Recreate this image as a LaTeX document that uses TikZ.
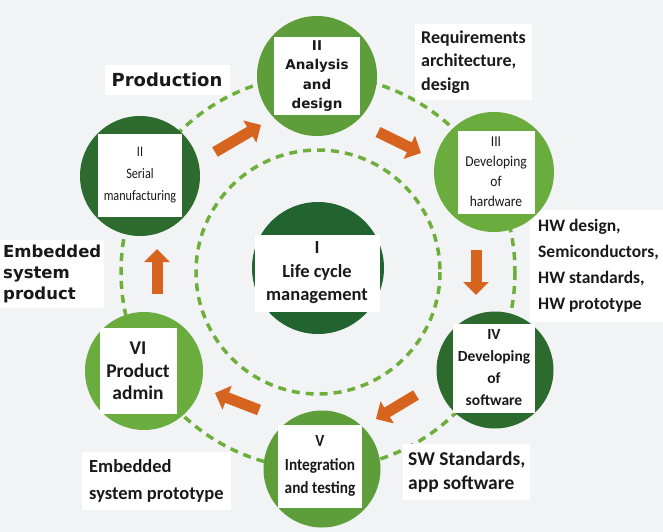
\documentclass[tikz,border=0pt]{standalone}
\usepackage{fontspec}
\setmainfont{Carlito}
\newfontfamily\dejavu{DejaVu Sans}
\newfontfamily\condA[FakeStretch=0.84]{Carlito}
\newfontfamily\condB[FakeStretch=0.9]{Carlito}
\usetikzlibrary{arrows.meta}
\definecolor{bg}{RGB}{242,243,245}
\definecolor{midgreen}{RGB}{94,158,58}
\definecolor{lightgreen}{RGB}{106,172,62}
\definecolor{darkgreen}{RGB}{44,106,46}
\definecolor{coregreen}{RGB}{33,100,47}
\definecolor{ringgreen}{RGB}{110,175,60}
\definecolor{flowor}{RGB}{214,100,30}
\definecolor{ink}{RGB}{25,25,25}
\begin{document}
\begin{tikzpicture}[x=1pt,y=-1pt,
  ring/.style={draw=ringgreen, line width=3.5pt, dash pattern=on 8pt off 6pt},
  disc/.style={circle, inner sep=0pt, minimum size=120pt},
  inbox/.style={fill=white, inner sep=0pt, align=center, text=ink},
  lbl/.style={fill=white, align=left, text=ink, inner ysep=2pt, anchor=west},
  flow/.style={draw=flowor, line width=11pt, -{Triangle[width=25pt,length=13pt]}}
]
\fill[bg] (0,0) rectangle (663,532);
\useasboundingbox (0,0) rectangle (663,532);

% rings
\coordinate (ctr) at (318,272);
\draw[ring] (ctr) circle[radius=122];
\draw[ring] (ctr) circle[radius=197];

% flow arrows
\coordinate (a1s) at (157,294); \coordinate (a1e) at (157,249);
\coordinate (a2s) at (215,152); \coordinate (a2e) at (261,125);
\coordinate (a3s) at (378,132); \coordinate (a3e) at (421,153);
\coordinate (a4s) at (476,250); \coordinate (a4e) at (476,295);
\coordinate (a5s) at (416,395); \coordinate (a5e) at (376,419);
\coordinate (a6s) at (259,410); \coordinate (a6e) at (215,393);
\draw[flow] (a1s) -- (a1e);
\draw[flow] (a2s) -- (a2e);
\draw[flow] (a3s) -- (a3e);
\draw[flow] (a4s) -- (a4e);
\draw[flow] (a5s) -- (a5e);
\draw[flow] (a6s) -- (a6e);

% outer labels
\node[lbl, anchor=center, align=center, minimum width=125pt, minimum height=30pt, inner xsep=0pt,
  font=\dejavu\bfseries\fontsize{18}{22}\selectfont] (lprod) at (167,80) {Production};
\node[lbl, inner xsep=3pt, minimum height=68pt,
  font=\dejavu\bfseries\fontsize{16.5}{21}\selectfont] (lesp) at (0,274) {Embedded\\system\\product};
\node[lbl, inner xsep=6pt, minimum height=76pt,
  font=\bfseries\fontsize{18}{23.5}\selectfont] (lreq) at (415,62) {Requirements\\architecture,\\design};
\node[lbl, inner xsep=8pt, minimum height=112pt,
  font=\bfseries\fontsize{17.5}{26}\selectfont] (lhw) at (530,266) {HW design,\\Semiconductors,\\HW standards,\\HW prototype};
\node[lbl, inner xsep=5pt, minimum height=56pt,
  font=\bfseries\fontsize{19.5}{23.5}\selectfont] (lsw) at (403,472) {SW Standards,\\app software};
\node[lbl, inner xsep=7pt, minimum height=58pt,
  font=\bfseries\fontsize{18.5}{27}\selectfont] (lpro) at (82,481) {Embedded\\system prototype};

% stage circles
\node[disc, fill=midgreen] (cII) at (317,76) {};
\node[inbox, minimum width=86pt, minimum height=78pt,
  font=\dejavu\bfseries\fontsize{13.5}{19.5}\selectfont] (bII) at (cII) {II\\Analysis\\and\\design};

\node[disc, fill=lightgreen] (cIII) at (494,172) {};
\node[inbox, minimum width=77pt, minimum height=83pt,
  font=\condB\fontsize{15}{20}\selectfont] (bIII) at (496,172) {III\\Developing\\of\\hardware};

\node[disc, fill=darkgreen, minimum size=117pt] (cIV) at (495,370) {};
\node[inbox, minimum width=82pt, minimum height=89pt,
  font=\bfseries\fontsize{15.5}{22}\selectfont] (bIV) at (494,368) {IV\\Developing\\of\\software};

\node[disc, fill=midgreen, minimum size=117pt] (cV) at (322,469) {};
\node[inbox, minimum width=84pt, minimum height=83pt,
  font=\condB\bfseries\fontsize{17}{23.5}\selectfont] (bV) at (320,466) {V\\Integration\\and testing};

\node[disc, fill=lightgreen, minimum size=118pt] (cVI) at (144,371) {};
\node[inbox, minimum width=77pt, minimum height=86pt,
  font=\bfseries\fontsize{19.5}{22.5}\selectfont] (bVI) at (138,371) {VI\\Product\\admin};

\node[disc, fill=darkgreen] (cS) at (140,176) {};
\node[inbox, minimum width=84pt, minimum height=83pt,
  font=\condA\fontsize{14.5}{22}\selectfont] (bS) at (140,175) {II\\Serial\\manufacturing};

\node[disc, fill=coregreen, minimum size=132pt] (cI) at (318,268) {};
\node[inbox, minimum width=125pt, minimum height=77pt,
  font=\bfseries\fontsize{18.5}{23.5}\selectfont] (bI) at (317,273) {I\\Life cycle\\management};
\end{tikzpicture}
\end{document}
